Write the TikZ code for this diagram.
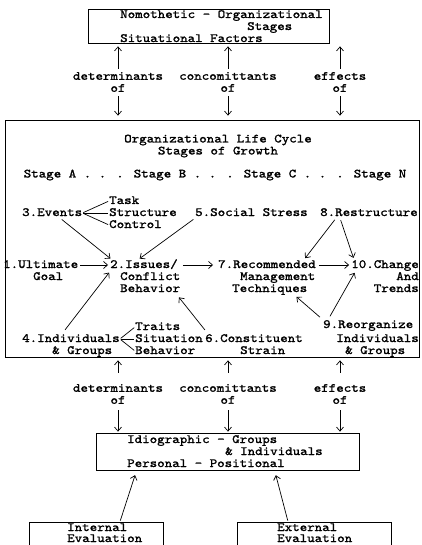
\documentclass[tikz,border=0pt]{standalone}
\usepackage{fontspec}
\newfontfamily\typewr[FakeStretch=1.143,FakeBold=1.5]{lmmono10-regular.otf}
\usepackage{tikz}
\usetikzlibrary{arrows.meta,calc}

\begin{document}
\begin{tikzpicture}[x=1pt,y=-1pt,font=\typewr\fontsize{12.5}{12}\selectfont,>={Straight Barb[length=4pt,width=7pt]}]
            \tikzstyle{box}=[draw, line width=0.8pt, inner sep=0pt]
            \tikzstyle{txt}=[inner sep=0pt, anchor=west, text height=8pt, text depth=2pt]
            \tikzstyle{txtr}=[inner sep=0pt, anchor=east, text height=8pt, text depth=2pt]
            \tikzstyle{lbl}=[inner sep=1pt, align=center]
            \tikzstyle{conn}=[->, line width=0.7pt]
            \tikzstyle{fan}=[line width=0.7pt, shorten <=1pt, shorten >=1pt]
            \useasboundingbox (0,0) rectangle (421,545);
            \clip (0,0) rectangle (421,545);
            \node[box, minimum width=241pt, minimum height=34pt] (topbox) at (208.5,26) {};
            \node[txt] (nomoA) at (120,15) {Nomothetic - Organizational};
            \node[txt] (nomoB) at (247,27) {Stages};
            \node[txt] (nomoC) at (120,39) {Situational Factors};
            \node[lbl] (detA) at (118,82) {determinants\\of};
            \node[lbl] (conA) at (228,82) {concomittants\\of};
            \node[lbl] (effA) at (340,82) {effects\\of};
            \node[box, minimum width=414pt, minimum height=237pt] (bigbox) at (212,238.5) {};
            \node[lbl] (olc) at (218,146) {Organizational Life Cycle\\Stages of Growth};
            \node[lbl] (stg) at (215,175) {Stage A . . . Stage B . . . Stage C . . . Stage N};
            \node[txt] (ev) at (22,213) {3.Events};
            \node[txt] (task) at (109,201) {Task};
            \node[txt] (strc) at (109,213) {Structure};
            \node[txt] (ctrl) at (109,225) {Control};
            \node[txt] (soc) at (195,213) {5.Social Stress};
            \node[txt] (rest) at (320,213) {8.Restructure};
            \node[txt] (one) at (3,265) {1.Ultimate};
            \node[txt] (goal) at (33,277) {Goal};
            \node[txt] (iss) at (110,265) {2.Issues/};
            \node[txt] (cnfl) at (120,277) {Conflict};
            \node[txt] (bhv) at (120,289) {Behavior};
            \node[txt] (rec) at (218,265) {7.Recommended};
            \node[txt] (mgmt) at (240,277) {Management};
            \node[txt] (tech) at (232,289) {Techniques};
            \node[txtr] (chg) at (419,265) {10.Change};
            \node[txtr] (and) at (419,277) {And};
            \node[txtr] (trnd) at (419,289) {Trends};
            \node[txt] (ind) at (22,339) {4.Individuals};
            \node[txt] (grp) at (52,351) {\& Groups};
            \node[txt] (trt) at (135,327) {Traits};
            \node[txt] (sit) at (135,339) {Situation};
            \node[txt] (bhvb) at (135,351) {Behavior};
            \node[txt] (cst) at (205,339) {6.Constituent};
            \node[txt] (strn) at (240,351) {Strain};
            \node[txt] (reo) at (323,325) {9.Reorganize};
            \node[txtr] (indv) at (419,339) {Individuals};
            \node[txt] (grpb) at (345,351) {\& Groups};
            \node[lbl] (detB) at (118,394) {determinants\\of};
            \node[lbl] (conB) at (228,394) {concomittants\\of};
            \node[lbl] (effB) at (340,394) {effects\\of};
            \node[box, minimum width=263pt, minimum height=37pt] (idio) at (227.5,451.5) {};
            \node[txt] (idA) at (127,440) {Idiographic - Groups};
            \node[txt] (idB) at (225,452) {\& Individuals};
            \node[txt] (idC) at (127,464) {Personal - Positional};
            \node[box, minimum width=134pt, minimum height=38pt] (intbox) at (96,541) {};
            \node[txt] (intA) at (67,528) {Internal};
            \node[txt] (intB) at (67,539) {Evaluation};
            \node[box, minimum width=154pt, minimum height=38pt] (extbox) at (314,541) {};
            \node[txt] (extA) at (277,528) {External};
            \node[txt] (extB) at (277,539) {Evaluation};
            \path [conn] (detA) edge[shorten <=2pt, shorten >=3pt] (detA |- topbox.south);
            \path [conn] (conA) edge[shorten <=2pt, shorten >=3pt] (conA |- topbox.south);
            \path [conn] (effA) edge[shorten <=2pt, shorten >=3pt] (effA |- topbox.south);
            \path [conn] (detA) edge[shorten <=3pt, shorten >=4pt] (detA |- bigbox.north);
            \path [conn] (conA) edge[shorten <=3pt, shorten >=4pt] (conA |- bigbox.north);
            \path [conn] (effA) edge[shorten <=3pt, shorten >=4pt] (effA |- bigbox.north);
            \path [conn] (detB) edge[shorten <=10pt, shorten >=3pt] (detB |- bigbox.south);
            \path [conn] (conB) edge[shorten <=10pt, shorten >=3pt] (conB |- bigbox.south);
            \path [conn] (effB) edge[shorten <=10pt, shorten >=3pt] (effB |- bigbox.south);
            \path [conn] (detB) edge[shorten <=5pt, shorten >=1pt] (detB |- idio.north);
            \path [conn] (conB) edge[shorten <=5pt, shorten >=1pt] (conB |- idio.north);
            \path [conn] (effB) edge[shorten <=5pt, shorten >=1pt] (effB |- idio.north);
            \draw[fan] (ev.east) -- (task.west);
            \draw[fan] (ev.east) -- (strc.west);
            \draw[fan] (ev.east) -- (ctrl.west);
            \draw[fan] (ind.east) -- (trt.west);
            \draw[fan] (ind.east) -- (sit.west);
            \draw[fan] (ind.east) -- (bhvb.west);
            \draw[conn, shorten <=2pt, shorten >=2pt] (one.east) -- (one.east -| iss.west);
            \draw[conn, shorten <=5pt, shorten >=5pt] (iss.east) -- (iss.east -| rec.west);
            \draw[conn, shorten <=3pt, shorten >=2pt] (rec.east) -- (rec.east -| chg.west);
            \draw[conn, shorten <=2pt, shorten >=2pt] ([xshift=8pt]ev.south) -- ([xshift=2pt]iss.north west);
            \draw[conn, shorten <=2pt, shorten >=2pt] (soc.south west) -- ([xshift=28pt]iss.north west);
            \draw[conn, shorten <=2pt, shorten >=2pt] ([xshift=16pt]rest.south west) -- ([xshift=-12pt]rec.north east);
            \draw[conn, shorten <=2pt, shorten >=2pt] ([xshift=20pt]rest.south west) -- ([xshift=3pt]chg.north west);
            \draw[conn, shorten <=5pt, shorten >=3pt] ([xshift=40pt]ind.north west) -- ([xshift=1pt]iss.south west);
            \draw[conn, shorten <=5pt, shorten >=4pt] ([xshift=3pt]cst.north west) -- ([xshift=-4pt]bhv.south east);
            \draw[conn, shorten <=4pt, shorten >=4pt] (reo.north west) -- ([xshift=-14pt]tech.south east);
            \draw[conn, shorten <=4pt, shorten >=3pt] ([xshift=5pt]reo.north west) -- ([xshift=5pt]chg.south west);
            \draw[conn, shorten <=1pt, shorten >=5pt] ([xshift=24pt]intbox.north) -- ([xshift=41pt]idio.south west);
            \draw[conn, shorten <=1pt, shorten >=5pt] ([xshift=-26pt]extbox.north) -- ([xshift=179pt]idio.south west);
        \end{tikzpicture}
\end{document}
